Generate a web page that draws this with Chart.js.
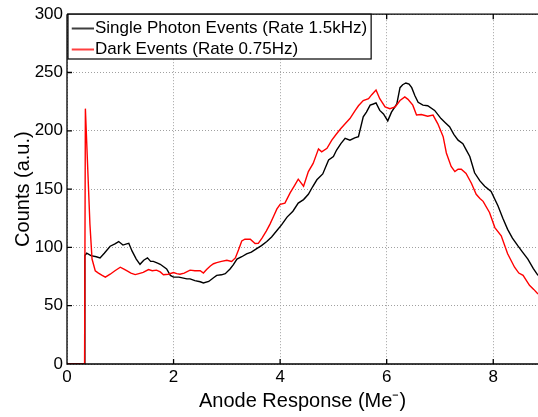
<!DOCTYPE html>
<html>
<head>
<meta charset="utf-8">
<script src="https://cdn.jsdelivr.net/npm/chart.js@4.4.0/dist/chart.umd.min.js"></script>
<style>
html, body { margin: 0; padding: 0; background: #fff; overflow: hidden; }
canvas { display: block; }
</style>
</head>
<body>
<canvas id="chart" width="538" height="417"></canvas>
<script>
// single photon events (black curve)
const photonX = [0, 0.33, 0.335, 0.37, 0.45, 0.55, 0.62, 0.70, 0.81, 0.90,
    0.97, 1.05, 1.12, 1.16, 1.22, 1.30, 1.37, 1.44, 1.51, 1.57,
    1.62, 1.70, 1.75, 1.87, 1.94, 2.00, 2.10, 2.25, 2.31, 2.40,
    2.50, 2.56, 2.66, 2.75, 2.81, 2.90, 2.97, 3.06, 3.12, 3.19,
    3.28, 3.37, 3.46, 3.56, 3.65, 3.75, 3.84, 3.94, 4.03, 4.13,
    4.24, 4.34, 4.44, 4.53, 4.61, 4.69, 4.80, 4.91, 5.00, 5.06,
    5.14, 5.22, 5.31, 5.40, 5.47, 5.56, 5.62, 5.69, 5.75, 5.80,
    5.87, 5.94, 6.02, 6.09, 6.19, 6.25, 6.30, 6.36, 6.42, 6.47,
    6.53, 6.59, 6.68, 6.77, 6.90, 7.02, 7.10, 7.18, 7.26, 7.34,
    7.43, 7.50, 7.56, 7.65, 7.75, 7.84, 7.96, 8.09, 8.18, 8.27,
    8.36, 8.46, 8.55, 8.65, 8.75, 8.84];
const photonY = [0, 0, 93, 95, 93, 92, 91, 95, 101, 103,
    105, 102, 103, 103.5, 97, 90, 85.5, 89, 91, 88,
    88, 86.5, 85.5, 81.5, 76, 74.5, 74.5, 73, 73, 71.5,
    70.5, 69.5, 70.8, 74, 76, 76.5, 77.5, 81.5, 85, 90,
    92, 94.5, 96, 99, 101.5, 105, 109, 114.5, 119.5, 126,
    131, 138, 141, 145.5, 152, 158, 163, 175, 178, 183.5,
    189, 193.5, 192, 194, 195, 212, 216, 222, 223, 224,
    217.5, 214.5, 208.5, 216, 223, 237, 239.5, 241, 240, 237,
    230, 224.5, 222, 221.5, 217.5, 210.5, 207, 203.5, 197, 192,
    189, 183, 178, 164, 157, 152.5, 148, 135.5, 125, 115.5,
    108, 101.5, 96, 90, 82, 76];

// dark events (red curve)
const darkX = [0, 0.33, 0.345, 0.43, 0.47, 0.53, 0.59, 0.66, 0.72, 0.81,
    0.90, 1.00, 1.06, 1.12, 1.20, 1.28, 1.35, 1.43, 1.53, 1.60,
    1.68, 1.75, 1.81, 1.90, 2.00, 2.06, 2.12, 2.20, 2.31, 2.40,
    2.50, 2.56, 2.62, 2.69, 2.75, 2.81, 2.90, 3.00, 3.09, 3.16,
    3.22, 3.28, 3.34, 3.44, 3.53, 3.59, 3.66, 3.74, 3.81, 3.88,
    3.94, 4.00, 4.09, 4.19, 4.27, 4.34, 4.44, 4.53, 4.62, 4.72,
    4.78, 4.88, 4.97, 5.06, 5.14, 5.22, 5.31, 5.41, 5.47, 5.56,
    5.66, 5.72, 5.80, 5.87, 5.97, 6.06, 6.16, 6.25, 6.34, 6.40,
    6.49, 6.56, 6.65, 6.77, 6.87, 6.96, 7.06, 7.12, 7.21, 7.28,
    7.34, 7.40, 7.49, 7.59, 7.68, 7.75, 7.81, 7.93, 8.03, 8.15,
    8.27, 8.40, 8.48, 8.56, 8.68, 8.76, 8.84];
const darkY = [0, 0, 219, 120, 90, 80, 78, 76, 74.5, 77,
    80, 83, 81.5, 80, 78, 76.7, 77.5, 78.5, 81, 80,
    80.5, 79, 76.5, 77, 78.5, 77.5, 77, 78, 80.5, 80,
    80, 78, 81, 84, 86, 87, 88, 89, 88, 91,
    98, 105.5, 107, 107, 103.3, 103.5, 108, 114, 120, 127,
    133, 137, 138, 147, 153, 158.5, 152.5, 165, 172, 184.5,
    182, 185, 192, 197.5, 202, 206, 210.5, 217.5, 221.5, 226,
    227.5, 231, 235, 227.5, 220.5, 219, 220.5, 226, 229, 227,
    222, 213.5, 214, 212.5, 213.5, 206, 195, 181, 169.5, 165,
    167, 167, 163.5, 155, 145.5, 142, 139.5, 130, 117, 110,
    94.5, 83, 78, 76, 67.5, 64, 60];

const seriesNames = ["Single Photon Events (Rate 1.5kHz)", "Dark Events (Rate 0.75Hz)"];
const xTicks = [0, 2, 4, 6, 8];
const xMax = 8.84;
const yMax = 300;

const font = "'Liberation Sans', Arial, Helvetica, sans-serif";

function toPoints(xs, ys) {
    return xs.map((x, i) => ({ x: x, y: ys[i] }));
}

// short line sample for the legend
function legendLine(color) {
    var c = document.createElement("canvas");
    c.width = 30;
    c.height = 4;
    var g = c.getContext("2d");
    g.fillStyle = color;
    g.fillRect(8, 1.25, 22, 1.5);
    return c;
}

// matlab style box, inward ticks and legend frame
const frame = {
    id: "frame",
    afterDraw(chart) {
        const ctx = chart.ctx, a = chart.chartArea;
        const xs = chart.scales.x, ys = chart.scales.y;
        ctx.save();
        ctx.strokeStyle = "#000";
        ctx.lineWidth = 1.3;
        ctx.beginPath();
        ctx.moveTo(a.left, a.top);
        ctx.lineTo(a.left, a.bottom);
        ctx.lineTo(a.right + 2, a.bottom);
        ctx.moveTo(a.left, a.top);
        ctx.lineTo(a.right + 2, a.top);
        xTicks.forEach(v => {
            const px = xs.getPixelForValue(v);
            ctx.moveTo(px, a.bottom);
            ctx.lineTo(px, a.bottom - 5);
            ctx.moveTo(px, a.top);
            ctx.lineTo(px, a.top + 5);
        });
        ys.ticks.forEach(t => {
            const py = ys.getPixelForValue(t.value);
            ctx.moveTo(a.left, py);
            ctx.lineTo(a.left + 5, py);
        });
        ctx.stroke();

        // legend box
        const lg = chart.legend;
        const hb = lg.legendHitBoxes;
        if (hb && hb.length) {
            const bx = a.left + 1;
            const by = a.top;
            let right = 0;
            hb.forEach(h => { right = Math.max(right, h.left + h.width); });
            const last = hb[hb.length - 1];
            const bw = right + 4 - bx;
            const bh = last.top + last.height + 1 - by;
            ctx.fillStyle = "#fff";
            ctx.fillRect(bx, by, bw, bh);
            lg.draw();
            ctx.strokeStyle = "#000";
            ctx.lineWidth = 1.2;
            ctx.strokeRect(bx, by, bw, bh);
        }
        ctx.restore();
    }
};

new Chart("chart", {
    type: "line",
    data: {
        datasets: [{
            label: seriesNames[0],
            data: toPoints(photonX, photonY),
            borderColor: "#000000",
            backgroundColor: "#000000",
            borderWidth: 1.4,
            pointRadius: 0,
            tension: 0,
            fill: false,
            order: 1
        }, {
            label: seriesNames[1],
            data: toPoints(darkX, darkY),
            borderColor: "#ff0000",
            backgroundColor: "#ff0000",
            borderWidth: 1.4,
            pointRadius: 0,
            tension: 0,
            fill: false,
            order: 0
        }]
    },
    options: {
        responsive: false,
        animation: false,
        devicePixelRatio: 1,
        layout: { padding: { top: 12, left: 0, right: 0, bottom: 0 } },
        plugins: {
            tooltip: { enabled: false },
            legend: {
                position: "chartArea",
                align: "start",
                // empty title only pushes the entries down to the axis top
                title: { display: true, text: " ", font: { size: 10, lineHeight: 1 }, padding: { top: 2, bottom: 4 } },
                labels: {
                    usePointStyle: true,
                    boxWidth: 15.5,
                    padding: 4,
                    color: "#000",
                    font: { family: font, size: 17 },
                    sort: (a, b) => a.datasetIndex - b.datasetIndex,
                    generateLabels(chart) {
                        const items = Chart.defaults.plugins.legend.labels.generateLabels(chart);
                        items.forEach(it => {
                            it.pointStyle = legendLine(chart.data.datasets[it.datasetIndex].borderColor);
                        });
                        return items;
                    }
                }
            }
        },
        scales: {
            x: {
                type: "linear",
                min: 0,
                max: xMax,
                afterBuildTicks: s => { s.ticks = xTicks.map(v => ({ value: v })); },
                afterFit: s => { s.height = 53; },
                ticks: { color: "#000", padding: 3, font: { family: font, size: 17 } },
                grid: { color: "#a0a0a0", lineWidth: 1, drawTicks: false },
                border: { display: false, dash: [1, 2] },
                title: {
                    display: true,
                    text: "Anode Response (Me\u207B)",
                    color: "#000",
                    font: { family: font, size: 20 },
                    padding: { top: 0, bottom: 4 }
                }
            },
            y: {
                min: 0,
                max: yMax,
                afterFit: s => { s.width = 67; },
                ticks: { stepSize: 50, color: "#000", padding: 4, font: { family: font, size: 17 } },
                grid: { color: "#a0a0a0", lineWidth: 1, drawTicks: false },
                border: { display: false, dash: [1, 2] },
                title: {
                    display: true,
                    text: "Counts (a.u.)",
                    color: "#000",
                    font: { family: font, size: 20 },
                    padding: { top: 11, bottom: 0 }
                }
            }
        }
    },
    plugins: [frame]
});
</script>
</body>
</html>
